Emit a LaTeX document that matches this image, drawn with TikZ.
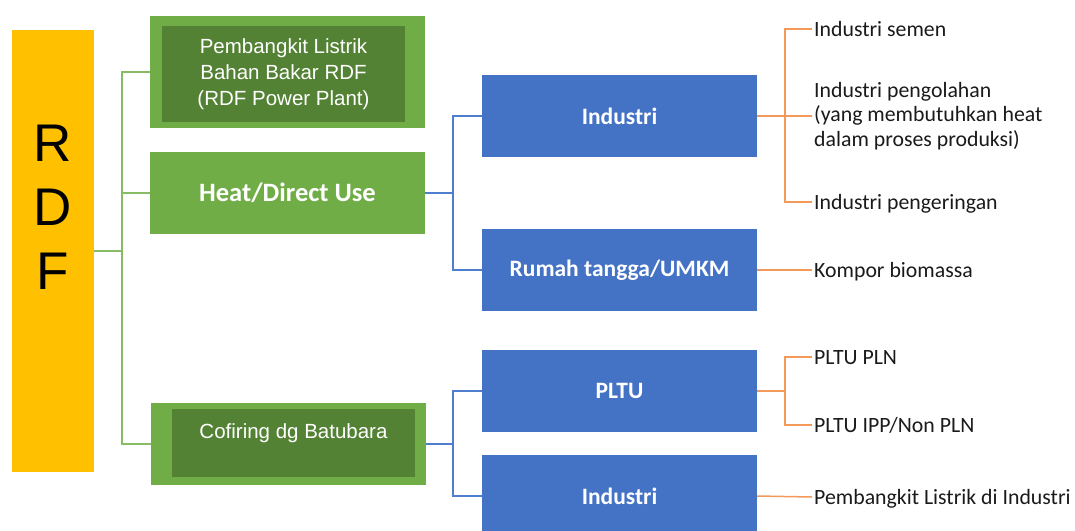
\documentclass[tikz,border=0pt]{standalone}
\usepackage{fontspec}
\newfontfamily\calibri{Carlito}
\newfontfamily\arial{Liberation Sans}
\definecolor{rdfyellow}{HTML}{FFC000}
\definecolor{gouter}{HTML}{70AD47}
\definecolor{ginner}{HTML}{548235}
\definecolor{bbox}{HTML}{4472C4}
\definecolor{glinec}{HTML}{86BC63}
\definecolor{blinec}{HTML}{4F7ECF}
\definecolor{olinec}{HTML}{F39A5A}
\definecolor{txt}{HTML}{1A1A1A}
\tikzset{
  box/.style={rectangle, inner sep=0pt, minimum width=275pt, minimum height=82pt},
  greenbox/.style={box, fill=gouter, text=white},
  innerbox/.style={rectangle, inner sep=0pt, fill=ginner, text=white, align=center,
    font=\arial\fontsize{20.5pt}{26pt}\selectfont},
  bluebox/.style={box, fill=bbox, text=white, font=\calibri\bfseries\fontsize{23.5pt}{28pt}\selectfont},
  gline/.style={draw=glinec, line width=1.5pt},
  bline/.style={draw=blinec, line width=1.5pt},
  oline/.style={draw=olinec, line width=1.5pt},
  rtext/.style={anchor=west, inner xsep=2pt, inner ysep=0pt, text=txt,
    font=\calibri\fontsize{21.8pt}{24.5pt}\selectfont},
  oneline/.style={rtext, text height=14pt, text depth=0pt},
}
\begin{document}
\begin{tikzpicture}[x=1pt, y=-1pt]
\useasboundingbox (0,0) rectangle (1075,530);

% RDF column
\node[rectangle, inner sep=0pt, fill=rdfyellow, minimum width=82pt, minimum height=442pt] (rdf) at (53,251) {};
\node[anchor=north, inner sep=0pt, align=center, text=black,
      font=\arial\fontsize{53pt}{64pt}\selectfont] (rdftxt) at (53,125) {R\\D\\F};

% first level (green)
\node[greenbox, minimum height=112pt] (b1) at (287.5,72) {};
\node[innerbox, minimum width=243pt, minimum height=96pt] (b1in) at (283.5,74)
  {Pembangkit Listrik\\Bahan Bakar RDF\\(RDF Power Plant)};
\node[greenbox, font=\calibri\bfseries\fontsize{26.5pt}{30pt}\selectfont] (b2) at (287.5,193) {Heat/Direct Use};
\node[greenbox] (b3) at (288.5,444) {};
\node[innerbox, minimum width=243pt, inner ysep=0pt, text height=29pt, text depth=39pt] (b3in) at (293.5,443)
  {Cofiring dg Batubara};

% second level (blue)
\node[bluebox] (i1) at (619.5,116) {Industri};
\node[bluebox] (r1) at (619.5,270) {Rumah tangga/UMKM};
\node[bluebox] (p1) at (619.5,391) {PLTU};
\node[bluebox] (i2) at (619.5,496) {Industri};

% third level (plain text)
\node[oneline] (t1) at (812,29) {Industri semen};
\node[rtext, align=left] (t2) at (812,116) {Industri pengolahan\\(yang membutuhkan heat\\dalam proses produksi)};
\node[oneline] (t3) at (812,202) {Industri pengeringan};
\node[oneline] (t4) at (812,270) {Kompor biomassa};
\node[oneline] (t5) at (812,357) {PLTU PLN};
\node[oneline] (t6) at (812,425) {PLTU IPP/Non PLN};
\node[oneline] (t7) at (812,497) {Pembangkit Listrik di Industri};

% junction columns
\coordinate (gx) at (122,0);
\coordinate (bx) at (453,0);
\coordinate (ox) at (785,0);

% green connectors
\draw[gline] (rdf.east) -- (rdf.east -| gx);
\draw[gline] (b1.west) -- (b1.west -| gx) -- (b3.west -| gx) -- (b3.west);
\draw[gline] (b2.west) -- (b2.west -| gx);

% blue connectors
\draw[bline] (b2.east) -- (b2.east -| bx);
\draw[bline] (i1.west) -- (i1.west -| bx) -- (r1.west -| bx) -- (r1.west);
\draw[bline] (b3.east) -- (b3.east -| bx);
\draw[bline] (p1.west) -- (p1.west -| bx) -- (i2.west -| bx) -- (i2.west);

% orange connectors
\draw[oline] (i1.east) -- (i1.east -| ox);
\draw[oline] (t1.west) -- (t1.west -| ox) -- (t3.west -| ox) -- (t3.west);
\draw[oline] (t2.west -| ox) -- (t2.west);
\draw[oline] (r1.east) -- (t4.west);
\draw[oline] (p1.east) -- (p1.east -| ox);
\draw[oline] (t5.west) -- (t5.west -| ox) -- (t6.west -| ox) -- (t6.west);
\draw[oline] (i2.east) -- (t7.west);
\end{tikzpicture}
\end{document}
